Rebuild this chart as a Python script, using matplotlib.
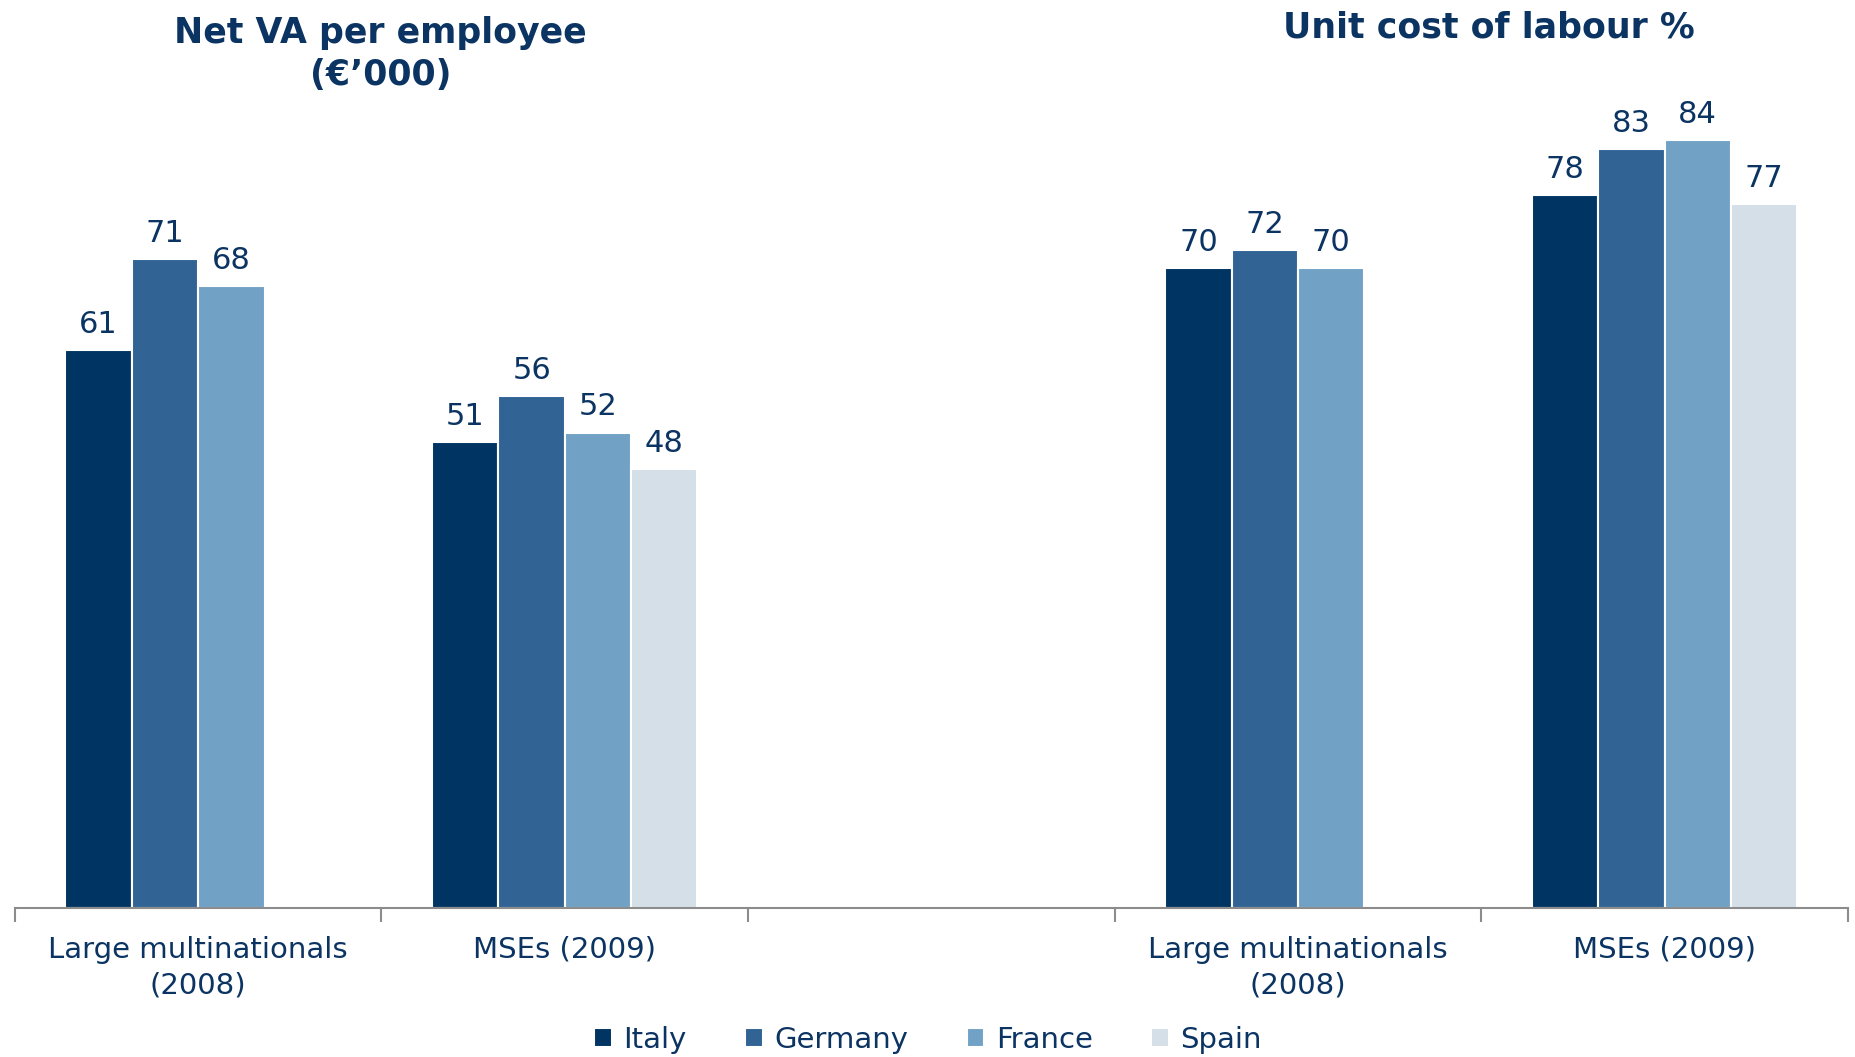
import matplotlib
matplotlib.use("Agg")
import matplotlib.pyplot as plt
import numpy as np

plt.rcParams["font.family"] = ["DejaVu Sans"]

# ── Data ─────────────────────────────────────────────────────────────────────
categories = ["Large multinationals\n(2008)", "MSEs (2009)", "",
              "Large multinationals\n(2008)", "MSEs (2009)"]
countries = ["Italy", "Germany", "France", "Spain"]
italy = [61, 51, np.nan, 70, 78]
germany = [71, 56, np.nan, 72, 83]
france = [68, 52, np.nan, 70, 84]
spain = [np.nan, 48, np.nan, np.nan, 77]
series = [italy, germany, france, spain]

colors = ["#003462", "#316395", "#71a2c6", "#d5dfe8"]
TXT = "#0b3463"
AXIS = "#8c8c8c"

# ── Figure ───────────────────────────────────────────────────────────────────
fig = plt.figure(figsize=(18.56, 10.57), dpi=100)
ax = fig.add_axes([0.008, 0.141, 0.9876, 0.865])

x = np.arange(len(categories))
w = 0.181
for i, (vals, col, name) in enumerate(zip(series, colors, countries)):
    pos = x + (i - 1.5) * w
    bars = ax.bar(pos, vals, width=w, color=col, edgecolor="white",
                  linewidth=1.5, label=name)
    for b, v in zip(bars, vals):
        if np.isnan(v):
            continue
        ax.annotate(f"{v:.0f}", (b.get_x() + b.get_width() / 2, v),
                    xytext=(0, 8), textcoords="offset points",
                    ha="center", va="bottom", fontsize=22, color=TXT)

ax.set_xlim(-0.5, len(categories) - 0.5)
ax.set_ylim(0, 100)

for s in ["top", "right", "left"]:
    ax.spines[s].set_visible(False)
ax.spines["bottom"].set_color(AXIS)
ax.spines["bottom"].set_linewidth(1.5)
ax.set_yticks([])

ax.set_xticks(x)
ax.set_xticklabels(categories, fontsize=21, color=TXT, linespacing=1.35)
ax.tick_params(axis="x", which="major", length=0, pad=20)
ax.set_xticks(np.arange(len(categories) + 1) - 0.5, minor=True)
ax.tick_params(axis="x", which="minor", length=10, width=1.5, color=AXIS,
               direction="out")

# ── Titles ───────────────────────────────────────────────────────────────────
fig.text(0.205, 0.985, "Net VA per employee\n(€’000)", ha="center", va="top",
         fontsize=25, fontweight="bold", color=TXT, linespacing=1.3)
fig.text(0.802, 0.99, "Unit cost of labour %", ha="center", va="top",
         fontsize=25, fontweight="bold", color=TXT)

# ── Legend ───────────────────────────────────────────────────────────────────
fig.legend(loc="lower center", bbox_to_anchor=(0.5, -0.022), ncol=4,
           frameon=False, fontsize=21, labelcolor=TXT, handlelength=0.6,
           handleheight=0.6, handletextpad=0.4, columnspacing=2.0)

fig.savefig("out.png", dpi=100, facecolor="white")
